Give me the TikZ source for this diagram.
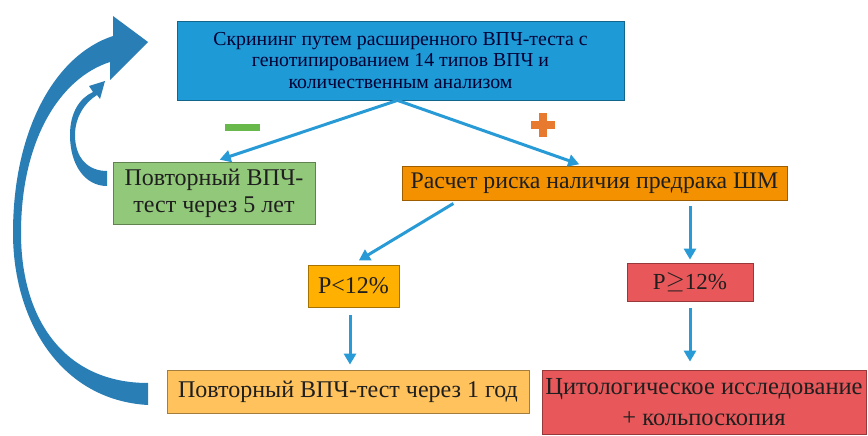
\documentclass[tikz,border=0pt]{standalone}
\usepackage{fontspec}
\setmainfont{Liberation Serif}
\usetikzlibrary{arrows.meta}
\definecolor{screenblue}{RGB}{30,155,215}
\definecolor{retestgreen}{RGB}{146,200,122}
\definecolor{riskorange}{RGB}{243,145,0}
\definecolor{lowamber}{RGB}{255,176,0}
\definecolor{yearpeach}{RGB}{255,194,92}
\definecolor{highred}{RGB}{232,88,90}
\definecolor{arrowblue}{RGB}{40,155,215}
\definecolor{loopblue}{RGB}{42,126,182}
\definecolor{minusgreen}{RGB}{104,184,76}
\definecolor{plusorange}{RGB}{232,122,48}

\begin{document}
\begin{tikzpicture}[x=1pt,y=-1pt,
    box/.style={draw=#1!65!black,line width=0.8pt,fill=#1,align=center,inner sep=0pt,text=black!88},
    flow/.style={-{Triangle[length=11pt,width=12pt]},line width=3pt,draw=arrowblue}]
    \useasboundingbox[fill=white] (0,0) rectangle (868,436);

    % boxes
    \node[box=screenblue,minimum width=447pt,minimum height=79pt,text=black!80!blue,
        font=\fontsize{19.8}{21.5}\selectfont] (screen) at (400.5,60.5)
        {Скрининг путем расширенного ВПЧ-теста с\\генотипированием 14 типов ВПЧ и\\количественным анализом};
    \node[box=retestgreen,minimum width=202pt,minimum height=62pt,
        font=\fontsize{24}{27}\selectfont] (five) at (214,193)
        {Повторный ВПЧ-\\тест через 5 лет};
    \node[box=riskorange,minimum width=385pt,minimum height=34pt,
        font=\fontsize{23.8}{27}\selectfont] (risk) at (594.5,183)
        {Расчет риска наличия предрака ШМ};
    \node[box=lowamber,minimum width=91pt,minimum height=42pt,
        font=\fontsize{24}{27}\selectfont] (low) at (353.5,286) {Р<12\%};
    \node[box=highred,minimum width=126pt,minimum height=38pt,
        font=\fontsize{23}{27}\selectfont] (high) at (690,282) {Р\raisebox{1pt}{$\geq$}12\%};
    \node[box=yearpeach,minimum width=362pt,minimum height=43pt,
        font=\fontsize{24}{27}\selectfont] (year) at (348,391.5)
        {Повторный ВПЧ-тест через 1 год};
    \node[box=highred,minimum width=324pt,minimum height=64pt,
        font=\fontsize{24.5}{31}\selectfont] (cyto) at (704,402)
        {Цитологическое исследование\\+ кольпоскопия};

    % signs
    \fill[minusgreen] (225,123.5) rectangle (260,130.5);
    \fill[plusorange] (539,113) rectangle (547,137);
    \fill[plusorange] (531,121) rectangle (555,129);

    % straight arrows
    \draw[flow,shorten >=6pt] ([xshift=-3pt]screen.south) -- (five.north);
    \draw[flow,shorten >=4pt] ([xshift=-3pt]screen.south) -- ([xshift=-11.5pt]risk.north);
    \draw[flow,shorten <=6pt,shorten >=8pt] ([xshift=-136pt]risk.south) -- ([xshift=-1.5pt]low.north);
    \draw[flow,shorten <=6pt,shorten >=3pt] (high.north |- risk.south) -- (high.north);
    \draw[flow,shorten <=8pt,shorten >=5pt] ([xshift=-3.5pt]low.south) -- ([xshift=-3.5pt]low.south |- year.north);
    \draw[flow,shorten <=7pt,shorten >=8pt] (high.south) -- (high.south |- cyto.north);

    % loop arrows
    \fill[loopblue] (148,405) .. controls (60,400) and (13,320) .. (13,233)
        .. controls (13,130) and (55,55) .. (113,36) -- (113,16) -- (148,42) -- (110,80) -- (110,62)
        .. controls (60,78) and (21,140) .. (21,233)
        .. controls (21,320) and (65,383) .. (148,383) -- cycle;
    \fill[loopblue] (107,186) .. controls (85,186) and (70,165) .. (70,135)
        .. controls (70,112) and (80,98) .. (93,92) -- (89,86) -- (105,81) -- (100,99) -- (97,95)
        .. controls (84,103) and (75,118) .. (75,135)
        .. controls (75,158) and (88,171) .. (107,171) -- cycle;
\end{tikzpicture}
\end{document}
